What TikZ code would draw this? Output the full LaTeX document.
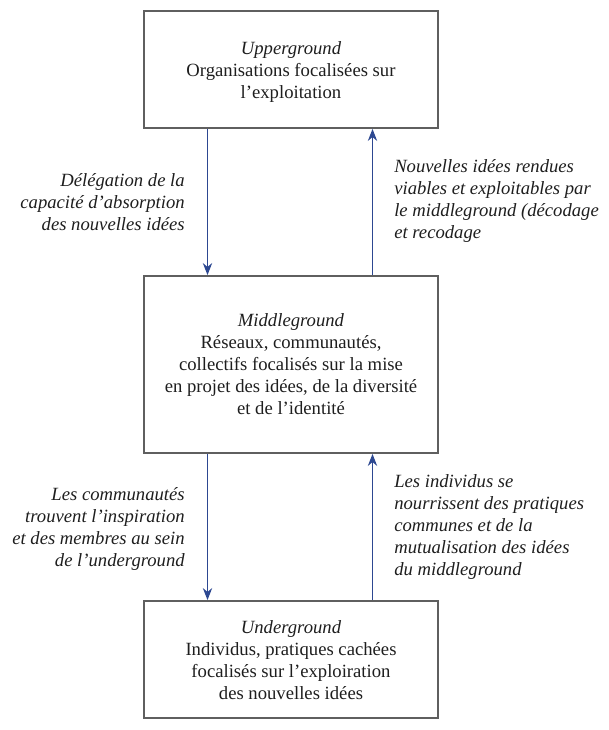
\documentclass[tikz,border=0pt]{standalone}
\usepackage{fontspec}
\setmainfont{Liberation Serif}
\usetikzlibrary{arrows.meta}
\definecolor{boxgray}{RGB}{95,95,95}
\definecolor{arrblue}{RGB}{45,72,145}
\definecolor{txt}{RGB}{30,30,30}
\tikzset{
  layerbox/.style={draw=boxgray, line width=1.4pt, minimum width=220.5pt, inner sep=0pt},
  boxtext/.style={align=center, anchor=base, inner sep=0pt, text=txt, font=\fontsize{14}{16.5}\selectfont},
  lefttext/.style={align=right, anchor=base east, inner sep=0pt, text=txt, font=\fontsize{14}{16.5}\selectfont\itshape},
  righttext/.style={align=left, anchor=base west, inner sep=0pt, text=txt, font=\fontsize{14}{16.5}\selectfont\itshape},
  flow/.style={draw=arrblue, line width=0.9pt, -{Stealth[length=9pt,width=7pt]}}
}
\begin{document}
\begin{tikzpicture}[x=0.75pt,y=-0.75pt]
\useasboundingbox (0,0) rectangle (608,730);
% boxes
\node[layerbox, minimum height=87.75pt] (top) at (291,69.5) {};
\node[layerbox, minimum height=132.75pt] (mid) at (291,364.5) {};
\node[layerbox, minimum height=87.75pt] (bot) at (291,659.5) {};
% box texts (anchor base = baseline of last line)
\node[boxtext] (toptext) at (291,99) {\textit{Upperground}\\Organisations focalisées sur\\l’exploitation};
\node[boxtext] (midtext) at (291,414) {\textit{Middleground}\\Réseaux, communautés,\\collectifs focalisés sur la mise\\en projet des idées, de la diversité\\et de l’identité};
\node[boxtext] (bottext) at (291,699) {\textit{Underground}\\Individus, pratiques cachées\\focalisés sur l’exploiration\\des nouvelles idées};
% arrow columns
\coordinate (lx) at (207.5,0);
\coordinate (rx) at (372.5,0);
\draw[flow] (top.south -| lx) -- (mid.north -| lx);
\draw[flow] (mid.north -| rx) -- (top.south -| rx);
\draw[flow] (mid.south -| lx) -- (bot.north -| lx);
\draw[flow] (bot.north -| rx) -- (mid.south -| rx);
% labels
\node[lefttext] (l1) at (185,231) {Délégation de la\\capacité d’absorption\\des nouvelles idées};
\node[righttext] (r1) at (394,239) {Nouvelles idées rendues\\viables et exploitables par\\le middleground (décodage\\et recodage};
\node[lefttext] (l2) at (185,566) {Les communautés\\trouvent l’inspiration\\et des membres au sein\\de l’underground};
\node[righttext] (r2) at (394,575) {Les individus se\\nourrissent des pratiques\\communes et de la\\mutualisation des idées\\du middleground};
\end{tikzpicture}
\end{document}
